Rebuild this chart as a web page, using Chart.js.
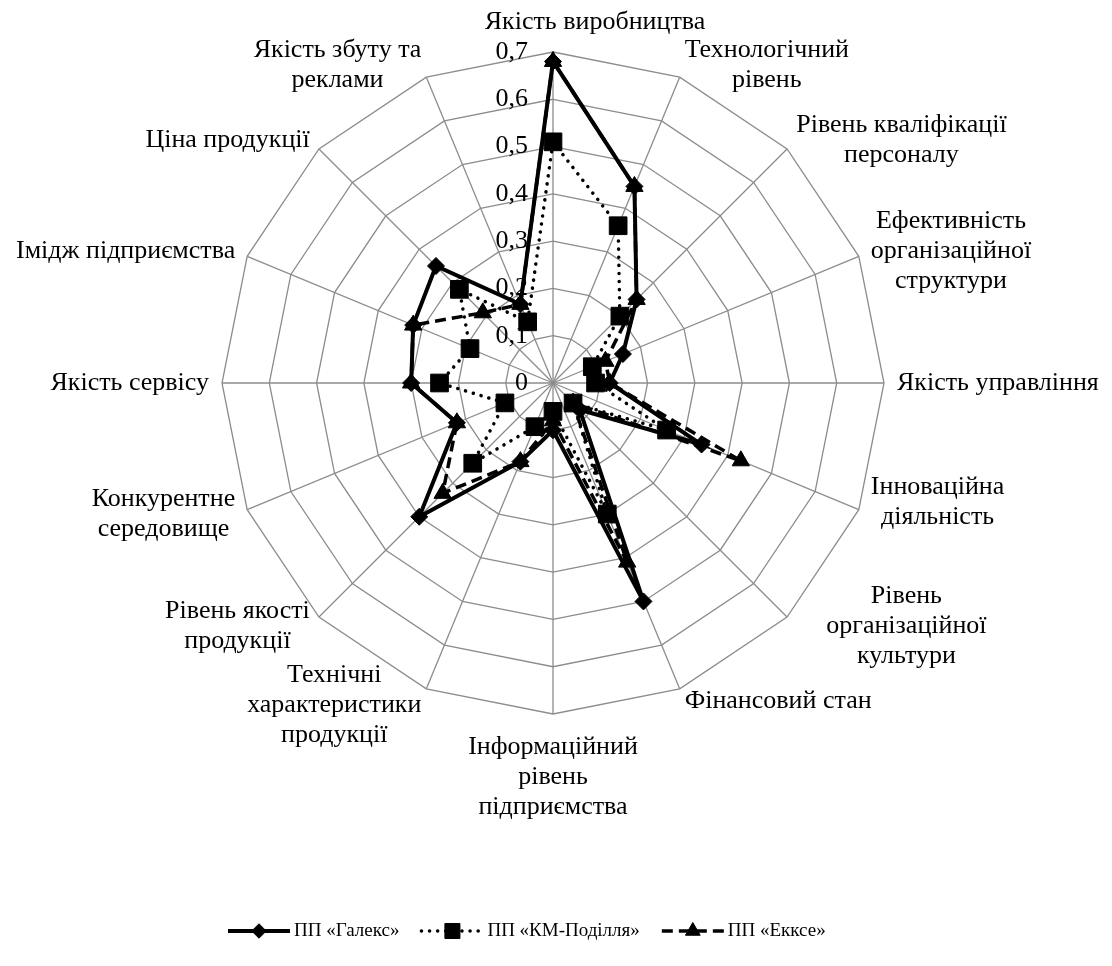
<!DOCTYPE html>
<html lang="uk">
<head>
<meta charset="utf-8">
<title>Конкурентоспроможність підприємств</title>
<script src="https://cdn.jsdelivr.net/npm/chart.js@4.4.1/dist/chart.umd.min.js"></script>
<style>
  html, body { margin: 0; padding: 0; background: #fff; }
  #wrap { width: 1112px; height: 966px; }
</style>
</head>
<body>
<div id="wrap"><canvas id="radarChart" width="1112" height="966"></canvas></div>
<script>
// категорії (осі радара), за годинниковою стрілкою від верху
const categories = [
    'Якість виробництва',
    ['Технологічний', 'рівень'],
    ['Рівень кваліфікації', 'персоналу'],
    ['Ефективність', 'організаційної', 'структури'],
    'Якість управління',
    ['Інноваційна', 'діяльність'],
    ['Рівень', 'організаційної', 'культури'],
    'Фінансовий стан',
    ['Інформаційний', 'рівень', 'підприємства'],
    ['Технічні', 'характеристики', 'продукції'],
    ['Рівень якості', 'продукції'],
    ['Конкурентне', 'середовище'],
    'Якість сервісу',
    'Імідж підприємства',
    'Ціна продукції',
    ['Якість збуту та', 'реклами']
];

const seriesNames = ['ПП «Галекс»', 'ПП «КМ-Поділля»', 'ПП «Екксе»'];

const galexValues      = [0.68, 0.45, 0.25, 0.16, 0.12, 0.34, 0.08, 0.50, 0.10, 0.18, 0.40, 0.22, 0.30, 0.32, 0.35, 0.18];
const kmPodillyaValues = [0.51, 0.36, 0.20, 0.09, 0.09, 0.26, 0.06, 0.30, 0.06, 0.10, 0.24, 0.11, 0.24, 0.19, 0.28, 0.14];
const ekkseValues      = [0.68, 0.45, 0.25, 0.12, 0.12, 0.43, 0.06, 0.41, 0.08, 0.18, 0.33, 0.22, 0.30, 0.32, 0.21, 0.18];

const scaleMin = 0;
const scaleMax = 0.7;
const scaleStep = 0.1;

const FONT = '"Liberation Serif", "Times New Roman", serif';
const LABEL_SIZE = 26;
const LINE_H = 30;
const GRID = '#8c8c8c';

// невеликі зсуви підписів, як у вихідному рисунку
const labelNudge = { 0: [42, -2], 5: [0, -12], 6: [30, 0], 8: [0, 5], 9: [0, 4] };

function formatTick(v) {
    if (Math.abs(v) < 1e-9) return '0';
    return v.toFixed(1).replace('.', ',');
}

/**
 * Підписи шкали та осей (малюються вручну, щоб багаторядкові підписи були по центру блоку)
 */
const axisTextPlugin = {
    id: 'axisText',
    beforeDatasetsDraw(chart) {
        const r = chart.scales.r;
        const ctx = chart.ctx;
        ctx.save();
        ctx.font = LABEL_SIZE + 'px ' + FONT;
        ctx.fillStyle = '#000';

        // значення шкали ліворуч від вертикальної осі
        ctx.textAlign = 'right';
        ctx.textBaseline = 'middle';
        r.ticks.forEach(t => {
            const d = r.getDistanceFromCenterForValue(t.value);
            ctx.fillText(formatTick(t.value), r.xCenter - 25, r.yCenter - d);
        });

        // назви осей
        const n = categories.length;
        categories.forEach((lab, i) => {
            const lines = Array.isArray(lab) ? lab : [lab];
            const p = r.getPointPosition(i, r.drawingArea + 13);
            const w = Math.max(...lines.map(l => ctx.measureText(l).width));
            const deg = i * 360 / n;
            let left, top;
            if (deg === 0 || deg === 180) left = p.x - w / 2;
            else if (deg < 180) left = p.x;
            else left = p.x - w;
            if (deg === 0) top = p.y - lines.length * LINE_H;
            else if (deg === 180) top = p.y;
            else top = p.y - lines.length * LINE_H / 2;
            const nd = labelNudge[i] || [0, 0];
            ctx.textAlign = 'center';
            lines.forEach((l, k) => {
                ctx.fillText(l, left + w / 2 + nd[0], top + LINE_H * (k + 0.5) + nd[1]);
            });
        });
        ctx.restore();
    }
};

/**
 * Легенда: відрізок лінії з маркером посередині
 */
const lineLegendPlugin = {
    id: 'lineLegend',
    afterDraw(chart) {
        const ctx = chart.ctx;
        const y = 931;
        const sampleW = 62;
        let x = 228;
        ctx.save();
        ctx.font = '19px ' + FONT;
        ctx.textBaseline = 'middle';
        ctx.textAlign = 'left';
        chart.data.datasets.forEach(ds => {
            ctx.save();
            ctx.strokeStyle = ds.borderColor;
            ctx.lineWidth = ds.borderWidth;
            ctx.lineCap = ds.borderCapStyle || 'butt';
            ctx.setLineDash(ds.borderDash || []);
            ctx.beginPath();
            ctx.moveTo(x, y);
            ctx.lineTo(x + sampleW, y);
            ctx.stroke();
            ctx.restore();

            ctx.save();
            ctx.fillStyle = ds.pointBackgroundColor;
            ctx.strokeStyle = ds.pointBorderColor;
            ctx.lineWidth = ds.pointBorderWidth;
            Chart.helpers.drawPoint(ctx, {
                pointStyle: ds.pointStyle,
                radius: ds.pointRadius * 0.85,
                borderWidth: ds.pointBorderWidth,
                rotation: 0
            }, x + sampleW / 2, y);
            ctx.restore();

            ctx.fillStyle = '#000';
            ctx.fillText(ds.label, x + sampleW + 4, y);
            x += sampleW + 4 + ctx.measureText(ds.label).width + 22;
        });
        ctx.restore();
    }
};

const ctx = document.getElementById('radarChart').getContext('2d');
new Chart(ctx, {
    type: 'radar',
    data: {
        labels: categories,
        datasets: [{
            label: seriesNames[0],
            data: galexValues,
            borderColor: '#000',
            borderWidth: 4,
            fill: false,
            pointStyle: 'rectRot',
            pointRadius: 8.5,
            pointBackgroundColor: '#000',
            pointBorderColor: '#000',
            pointBorderWidth: 1,
            order: 3
        }, {
            label: seriesNames[1],
            data: kmPodillyaValues,
            borderColor: '#000',
            borderWidth: 3.5,
            borderDash: [0.1, 8],
            borderCapStyle: 'round',
            fill: false,
            pointStyle: 'rect',
            pointRadius: 12.5,
            pointBackgroundColor: '#000',
            pointBorderColor: '#000',
            pointBorderWidth: 1,
            order: 2
        }, {
            label: seriesNames[2],
            data: ekkseValues,
            borderColor: '#000',
            borderWidth: 3.5,
            borderDash: [11, 6],
            fill: false,
            pointStyle: 'triangle',
            pointRadius: 10,
            pointBackgroundColor: '#000',
            pointBorderColor: '#000',
            pointBorderWidth: 1,
            order: 1
        }]
    },
    options: {
        responsive: false,
        animation: false,
        layout: { padding: { left: 222, right: 228, top: 52, bottom: 252 } },
        plugins: {
            legend: { display: false },
            tooltip: { enabled: false }
        },
        scales: {
            r: {
                min: scaleMin,
                max: scaleMax,
                ticks: { display: false, stepSize: scaleStep },
                grid: { color: GRID, lineWidth: 1.3 },
                angleLines: { color: GRID, lineWidth: 1.3 },
                pointLabels: { display: false }
            }
        }
    },
    plugins: [axisTextPlugin, lineLegendPlugin]
});
</script>
</body>
</html>
